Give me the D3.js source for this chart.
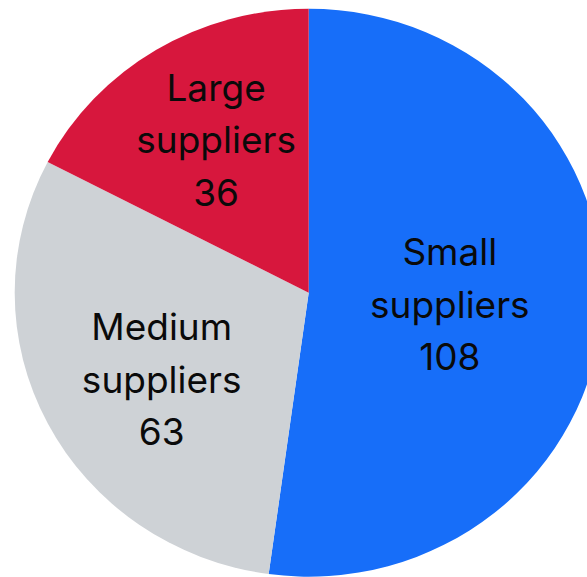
<!DOCTYPE html>
<html>
<head>
<meta charset="utf-8">
<script src="https://cdn.jsdelivr.net/npm/d3@7"></script>
<style>
  html, body { margin: 0; padding: 0; background: #ffffff; }
  svg { display: block; }
</style>
</head>
<body>
<svg id="chart" width="587" height="577"></svg>
<script>
// Supplier counts by size
const categories = ["Small suppliers", "Medium suppliers", "Large suppliers"];
const labelLines = [["Small", "suppliers"], ["Medium", "suppliers"], ["Large", "suppliers"]];
const values = [108, 63, 36];
const colors = ["#176ef9", "#ced2d6", "#d7173d"];

// Label anchor, as a fraction of the radius along each slice (x, y)
const labelAnchor = [[0.48, 0.042], [-0.50, 0.306], [-0.315, -0.538]];

const width = 587, height = 577;
const cx = 308.7, cy = 292.7;
const ry = 284, rx = 294;

const svg = d3.select("#chart");

const pie = d3.pie().sort(null).value(d => d)
  .startAngle(0).endAngle(2 * Math.PI);
const arcs = pie(values);

const arc = d3.arc().innerRadius(0).outerRadius(ry);

// Pie slightly wider than tall
const pieG = svg.append("g")
  .attr("transform", `translate(${cx},${cy}) scale(${rx / ry},1)`);

pieG.selectAll("path")
  .data(arcs)
  .join("path")
  .attr("d", arc)
  .attr("fill", (d, i) => colors[i]);

const fontSize = 37;
const lineH = 52.5;

const labels = svg.append("g")
  .attr("font-family", "Inter, 'Noto Sans', sans-serif")
  .attr("font-size", fontSize)
  .attr("fill", "#0a0a0a")
  .attr("text-anchor", "middle");

arcs.forEach((d, i) => {
  const x = cx + labelAnchor[i][0] * rx;
  const y = cy + labelAnchor[i][1] * ry;
  const lines = [...labelLines[i], String(values[i])];
  const t = labels.append("text")
    .attr("x", x)
    .attr("y", y);
  lines.forEach((ln, k) => {
    t.append("tspan")
      .attr("x", x)
      .attr("y", y + (k - 1) * lineH + fontSize * 0.36)
      .text(ln);
  });
});
</script>
</body>
</html>
